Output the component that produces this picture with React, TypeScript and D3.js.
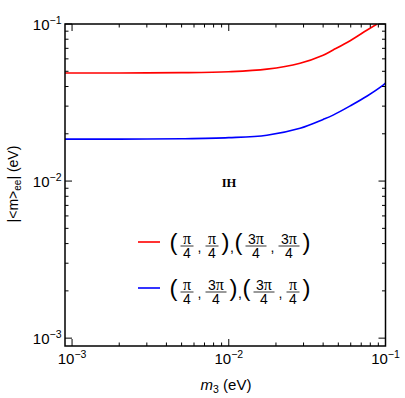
import React from "react";
import * as d3 from "d3";

// values (m3 in eV, |<m>ee| in eV)
const redM3 = [0.0009, 0.002, 0.005, 0.01, 0.0175, 0.0285, 0.04, 0.0463, 0.0595, 0.0764, 0.0884];
const redMee = [0.0488, 0.0488, 0.049, 0.0497, 0.0516, 0.0563, 0.0633, 0.0683, 0.0783, 0.0916, 0.1];
const blueM3 = [0.0009, 0.002, 0.005, 0.01, 0.0175, 0.0285, 0.04, 0.0463, 0.0595, 0.0764, 0.0966, 0.1];
const blueMee = [0.0185, 0.0185, 0.0186, 0.0189, 0.0196, 0.0217, 0.0247, 0.0263, 0.0301, 0.0348, 0.0408, 0.042];

const majorTicks = [1e-3, 1e-2, 1e-1];
const tickExps = ["−3", "−2", "−1"];

// legend rows: tokens "(", ")", ",", ";" (group separator), or fraction [num, den]
const legendRows = [
  { color: "#ff0000", tokens: ["(", ["π", "4"], ",", ["π", "4"], ")", ";", "(", ["3π", "4"], ",", ["3π", "4"], ")"] },
  { color: "#0000ff", tokens: ["(", ["π", "4"], ",", ["3π", "4"], ")", ";", "(", ["3π", "4"], ",", ["π", "4"], ")"] },
];

const W = 405;
const H = 398;
const left = 65, right = 385.5, top = 24, bottom = 346;
const sans = "Liberation Sans, Arial, sans-serif";

function Numer({ s, x, y }: { s: string; x: number; y: number }) {
  const parts = s.split("π");
  return (
    <text x={x} y={y} textAnchor="middle" fontSize={14}>
      {parts[0] && <tspan fontFamily={sans}>{parts[0]}</tspan>}
      <tspan fontFamily="Liberation Serif, Times New Roman, serif" fontSize={16}>π</tspan>
    </text>
  );
}

function LegendRow({ tokens, x0, y }: { tokens: any[]; x0: number; y: number }) {
  const width = (t: any) => (Array.isArray(t) ? (t[0].length > 1 ? 21 : 13) : t === "," || t === ";" ? 4 : 6);
  const items: any[] = [];
  let x = x0;
  tokens.forEach((t, i) => {
    if (i > 0) {
      const prev = tokens[i - 1];
      const tight = (prev === ")" && t === ";") || (prev === ";" && t === "(");
      x += tight ? 1.5 : 4;
    }
    const w = width(t);
    const c = x + w / 2;
    if (Array.isArray(t)) {
      items.push(
        <g key={i}>
          <Numer s={t[0]} x={c} y={y - 2} />
          <line x1={x} x2={x + w} y1={y} y2={y} stroke="#000" strokeWidth={0.8} />
          <text x={c} y={y + 11.5} textAnchor="middle" fontSize={14} fontFamily={sans}>
            {t[1]}
          </text>
        </g>
      );
    } else if (t === "(" || t === ")") {
      items.push(
        <text key={i} x={c} y={y + 4} textAnchor="middle" fontSize={24} fontFamily={sans}>
          {t}
        </text>
      );
    } else {
      items.push(
        <text key={i} x={c} y={y + 6} textAnchor="middle" fontSize={14} fontFamily={sans}>
          ,
        </text>
      );
    }
    x += w;
  });
  return <g>{items}</g>;
}

export default function App() {
  const x = d3.scaleLog().domain([Math.pow(10, -3.045), 0.1]).range([left, right]);
  const y = d3.scaleLog().domain([Math.pow(10, -3.05), 0.1]).range([bottom, top]);

  const line = d3
    .line<[number, number]>()
    .x((d) => x(d[0]))
    .y((d) => y(d[1]))
    .curve(d3.curveCatmullRom.alpha(0.5));

  const redPts = redM3.map((m, i) => [m, redMee[i]] as [number, number]);
  const bluePts = blueM3.map((m, i) => [m, blueMee[i]] as [number, number]);

  const ticks: number[] = [];
  [1e-3, 1e-2].forEach((d) => {
    for (let k = 1; k <= 10; k++) ticks.push(+(d * k).toPrecision(3));
  });
  const allTicks = Array.from(new Set(ticks));

  return (
    <svg width={W} height={H} style={{ position: "absolute", left: 0, top: 0 }}>
      <rect width={W} height={H} fill="#fff" />
      <defs>
        <clipPath id="plot">
          <rect x={left} y={top} width={right - left} height={bottom - top} />
        </clipPath>
      </defs>

      <g clipPath="url(#plot)">
        <path d={line(redPts) || ""} fill="none" stroke="#ff0000" strokeWidth={1.6} />
        <path d={line(bluePts) || ""} fill="none" stroke="#0000ff" strokeWidth={1.6} />
      </g>

      {/* ticks, inward on all four sides */}
      {allTicks.map((v) => {
        const major = majorTicks.some((m) => Math.abs(m - v) < v * 1e-6);
        const len = major ? 7 : 3.5;
        const px = x(v);
        const py = y(v);
        return (
          <g key={v} stroke="#000" strokeWidth={1}>
            <line x1={px} x2={px} y1={bottom} y2={bottom - len} />
            <line x1={px} x2={px} y1={top} y2={top + len} />
            <line x1={left} x2={left + len} y1={py} y2={py} />
            <line x1={right} x2={right - len} y1={py} y2={py} />
          </g>
        );
      })}

      <rect x={left} y={top} width={right - left} height={bottom - top} fill="none" stroke="#000" strokeWidth={1.5} />

      {/* tick labels */}
      {majorTicks.map((v, i) => (
        <g key={"l" + v} fontFamily={sans} fill="#000">
          <text x={left - 3.5} y={y(v) + 5.5} textAnchor="end" fontSize={15}>
            10<tspan dy={-6} fontSize={10.5}>{tickExps[i]}</tspan>
          </text>
          <text x={x(v)} y={bottom + 17.5} textAnchor="middle" fontSize={15}>
            10<tspan dy={-6} fontSize={10.5}>{tickExps[i]}</tspan>
          </text>
        </g>
      ))}

      {/* axis titles */}
      <text x={226} y={390} textAnchor="middle" fontSize={15} fontFamily={sans}>
        <tspan fontStyle="italic">m</tspan>
        <tspan dy={3} fontSize={10.5}>3</tspan>
        <tspan dy={-3}> (eV)</tspan>
      </text>
      <text transform="translate(18,184) rotate(-90)" textAnchor="middle" fontSize={14} fontFamily={sans}>
        |&lt;m&gt;<tspan dy={3} fontSize={10}>ee</tspan>
        <tspan dy={-3}>| (eV)</tspan>
      </text>

      <text x={229} y={186.5} textAnchor="middle" fontSize={12.5} fontWeight="bold" fontFamily="Liberation Serif, Times New Roman, serif">
        IH
      </text>

      {/* legend */}
      {legendRows.map((r, i) => {
        const ly = 242 + i * 46;
        return (
          <g key={"lg" + i}>
            <line x1={138} x2={160} y1={ly} y2={ly} stroke={r.color} strokeWidth={1.6} />
            <LegendRow tokens={r.tokens} x0={170.5} y={ly + 4} />
          </g>
        );
      })}
    </svg>
  );
}
